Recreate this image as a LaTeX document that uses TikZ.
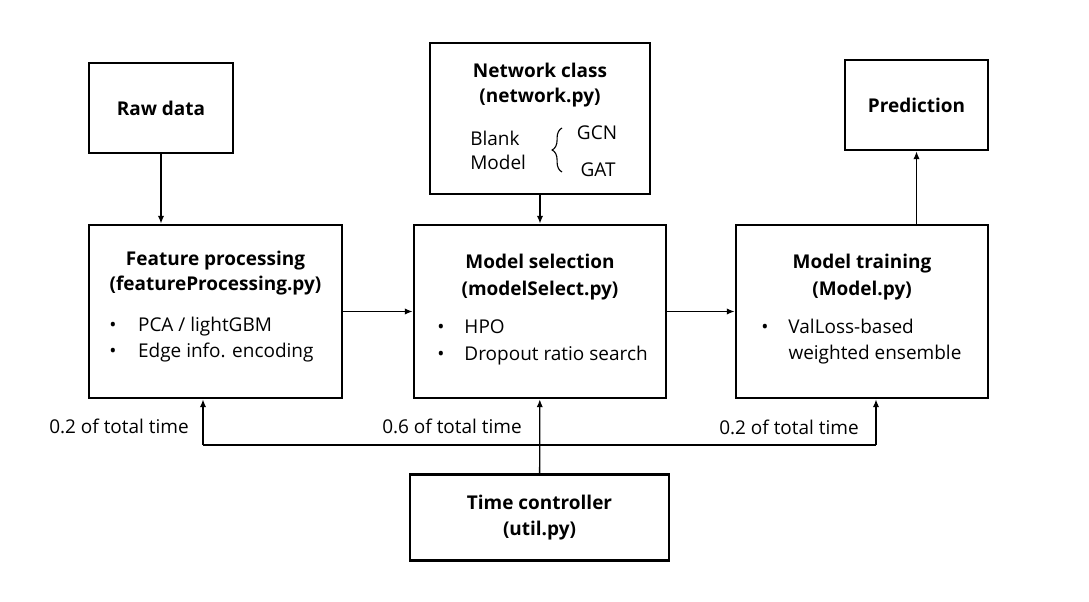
\documentclass[tikz,border=0pt]{standalone}
\usepackage{fontspec}
\setmainfont{Open Sans}
\usetikzlibrary{positioning,arrows.meta,decorations.pathreplacing}

\begin{document}
\begin{tikzpicture}[
    x=0.025cm, y=-0.025cm,
    box/.style={rectangle, draw=black, line width=2pt, fill=white, inner sep=0pt, align=center, font=\fontsize{13.5}{18}\selectfont\bfseries},
    title/.style={inner sep=0pt, align=center, font=\fontsize{13.5}{17.5}\selectfont\bfseries},
    items/.style={inner sep=0pt, anchor=west, align=left, font=\fontsize{13.5}{18.5}\selectfont},
    note/.style={inner sep=0pt, font=\fontsize{13.5}{15}\selectfont},
    link/.style={-{Latex[length=5.5pt,width=4.5pt]}, line width=0.9pt},
    bus/.style={line width=0.9pt},
]
\useasboundingbox (0,0) rectangle (1089,602);
% Top row
\node[box, minimum width=3.6cm, minimum height=2.25cm] (raw) at (161,108) {Raw data};
\node[box, minimum width=5.5cm, minimum height=3.775cm] (net) at (540,118.5) {};
\node[box, minimum width=3.575cm, minimum height=2.25cm] (pred) at (916.5,105) {Prediction};
% Middle row
\node[box, minimum width=6.325cm, minimum height=4.325cm] (feat) at (215.5,311.5) {};
\node[box, minimum width=6.3cm, minimum height=4.325cm] (sel) at (540,311.5) {};
\node[box, minimum width=6.3cm, minimum height=4.325cm] (train) at (862,311.5) {};
% Bottom row
\node[box, minimum width=6.475cm, minimum height=2.15cm] (time) at (539.5,517.5) {Time controller\\(util.py)};

% Network class contents
\node[title] (net_title) at (540,85) {Network class\\(network.py)};
\node[items, font=\fontsize{13.5}{17}\selectfont] (net_blank) at (470,150) {Blank\\Model};
\draw[decorate, decoration={brace, amplitude=7pt}, line width=0.8pt] (562,172) -- (562,128);
\node[note] (net_gcn) at (597,133) {GCN};
\node[note] (net_gat) at (598,170) {GAT};

% Box contents
\node[title] (feat_title) at (215.5,273) {Feature processing\\(featureProcessing.py)};
\node[items] (feat_items) at (109,340) {\makebox[0.72cm][l]{•}PCA / lightGBM\\\makebox[0.72cm][l]{•}Edge info. encoding};
\node[title, font=\fontsize{13.5}{19}\selectfont\bfseries] (sel_title) at (540,277) {Model selection\\(modelSelect.py)};
\node[items, font=\fontsize{13.5}{19.5}\selectfont] (sel_items) at (437,342.5) {\makebox[0.68cm][l]{•}HPO\\\makebox[0.68cm][l]{•}Dropout ratio search};
\node[title, font=\fontsize{13.5}{19}\selectfont\bfseries] (train_title) at (862,277) {Model training\\(Model.py)};
\node[items] (train_items) at (761,342) {\makebox[0.68cm][l]{•}ValLoss-based\\\hspace*{0.68cm}weighted ensemble};

% Time shares
\node[note] (share_feat) at (119,426) {0.2 of total time};
\node[note] (share_sel) at (452,426) {0.6 of total time};
\node[note] (share_train) at (789,427) {0.2 of total time};

% Connectors
\draw[link] (raw.south) -- (raw.south |- feat.north);
\draw[link] (net) -- (sel);
\draw[link] (feat) -- (sel);
\draw[link] (sel) -- (train);
\draw[link] (pred.south |- train.north) -- (pred.south);
\draw[link] (time) -- (sel);
\coordinate (bus_left) at (203,445);
\coordinate (bus_right) at (876,445);
\draw[bus] (bus_left) -- (bus_right);
\draw[link] (bus_left) -- (bus_left |- feat.south);
\draw[link] (bus_right) -- (bus_right |- train.south);
\end{tikzpicture}
\end{document}
